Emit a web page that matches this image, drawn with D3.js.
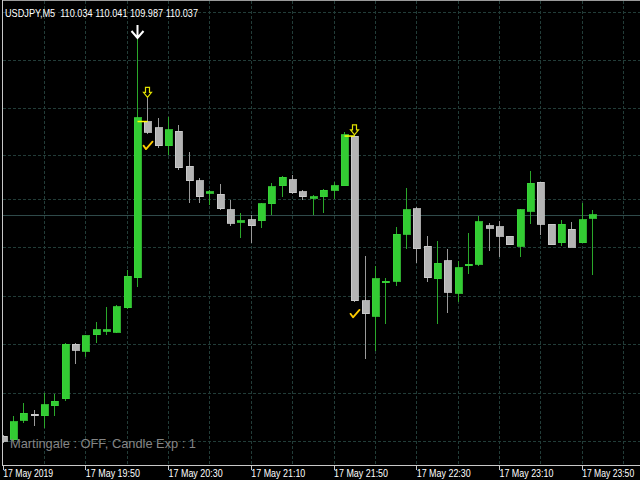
<!DOCTYPE html>
<html><head><meta charset="utf-8">
<script src="https://cdn.jsdelivr.net/npm/d3@7"></script>
<style>html,body{margin:0;padding:0;background:#000;overflow:hidden}</style>
</head><body><svg id="c" width="640" height="480"></svg>
<script>
const times = ["19:10","19:15","19:20","19:25","19:30","19:35","19:40","19:45","19:50","19:55",
"20:00","20:05","20:10","20:15","20:20","20:25","20:30","20:35","20:40","20:45","20:50","20:55",
"21:00","21:05","21:10","21:15","21:20","21:25","21:30","21:35","21:40","21:45","21:50","21:55",
"22:00","22:05","22:10","22:15","22:20","22:25","22:30","22:35","22:40","22:45","22:50","22:55",
"23:00","23:05","23:10","23:15","23:20","23:25","23:30","23:35","23:40","23:45","23:50","23:55"];
const open = [109.854,109.851,109.867,109.872,109.871,109.879,109.885,109.930,109.924,109.938,
109.941,109.940,109.960,109.985,110.114,110.109,110.094,110.106,110.077,110.065,
110.055,110.054,110.041,110.031,110.033,110.032,110.046,110.061,110.066,110.056,
110.051,110.052,110.057,110.061,110.102,109.966,109.953,109.981,109.982,110.021,
110.042,110.011,109.984,109.999,109.972,109.995,109.996,110.028,110.027,110.019,
110.011,110.040,110.064,110.029,110.014,110.025,110.014,110.034];
const high = [109.855,109.871,109.881,109.876,109.890,109.889,109.931,109.931,109.938,109.948,
109.961,109.962,109.991,110.183,110.134,110.117,110.118,110.111,110.089,110.067,
110.057,110.062,110.049,110.038,110.037,110.047,110.063,110.069,110.070,110.057,
110.053,110.058,110.064,110.105,110.103,110.003,109.995,109.985,110.027,110.059,
110.043,110.019,110.015,110.009,109.999,110.022,110.036,110.030,110.032,110.019,
110.042,110.073,110.064,110.029,110.033,110.031,110.047,110.041];
const low = [109.848,109.850,109.865,109.862,109.861,109.871,109.883,109.914,109.919,109.931,
109.938,109.939,109.959,109.977,110.104,110.092,110.086,110.074,110.047,110.047,
110.045,110.041,110.028,110.018,110.014,110.026,110.037,110.052,110.054,110.049,
110.037,110.038,110.050,110.061,109.965,109.918,109.924,109.947,109.978,110.009,
109.997,109.981,109.947,109.956,109.965,109.988,109.995,110.007,110.002,110.012,
110.002,110.029,110.020,110.012,110.011,110.010,110.014,109.987];
const close = [109.850,109.866,109.873,109.871,109.880,109.883,109.930,109.925,109.937,109.942,
109.942,109.961,109.986,110.117,110.105,110.094,110.107,110.076,110.065,110.052,
110.056,110.042,110.030,110.032,110.028,110.046,110.060,110.068,110.055,110.052,
110.052,110.057,110.061,110.103,109.966,109.955,109.984,109.982,110.021,110.041,
110.009,109.985,109.997,109.973,109.993,109.996,110.031,110.026,110.019,110.012,
110.041,110.063,110.029,110.012,110.029,110.010,110.033,110.037];

const tickIndex = [0,8,16,24,32,40,48,56];
const tickLabels = ["17 May 2019","17 May 19:50","17 May 20:30","17 May 21:10","17 May 21:50","17 May 22:30","17 May 23:10","17 May 23:50"];
const gridPrices = [109.85,109.89,109.93,109.97,110.01,110.05,110.086,110.125,110.165,110.2045];
const bidPrice = 110.037;
const signalBars = [13];
const entryBars = [14, 34];
const headerText = "USDJPY,M5  110.034 110.041 109.987 110.037";
const infoText = "Martingale : OFF, Candle Exp : 1";

const W = 640, H = 480, plotBottom = 465, plotLeft = 2.5;
const svg = d3.select("#c");
svg.append("rect").attr("width",W).attr("height",H).attr("fill","#000");

const x = d3.scaleLinear().domain([0,57]).range([2.66,592]);
const y = d3.scaleLinear().domain([109.85,110.2045]).range([441,12]);
const px = i => Math.round(x(i)) + 0.5;

svg.append("defs").append("clipPath").attr("id","plot")
  .append("rect").attr("x",3).attr("y",1).attr("width",W-3).attr("height",plotBottom-1);

const grid = svg.append("g").attr("stroke","#223c38").attr("stroke-dasharray","3,2").attr("shape-rendering","crispEdges");
grid.selectAll(".h").data(gridPrices).join("line")
  .attr("x1",3).attr("x2",W).attr("y1",d=>Math.round(y(d))+0.5).attr("y2",d=>Math.round(y(d))+0.5);
grid.selectAll(".v").data(d3.range(4,61,4)).join("line")
  .attr("y1",1).attr("y2",plotBottom).attr("x1",d=>px(d)).attr("x2",d=>px(d));

// bid line
svg.append("line").attr("x1",3).attr("x2",W)
  .attr("y1",Math.round(y(bidPrice))+0.5).attr("y2",Math.round(y(bidPrice))+0.5)
  .attr("stroke","#2f4a4a").attr("shape-rendering","crispEdges");

const bars = times.map((t,i)=>({i,t,o:open[i],h:high[i],l:low[i],c:close[i]}));
const cg = svg.append("g").attr("clip-path","url(#plot)").attr("shape-rendering","crispEdges");
cg.selectAll(".wick").data(bars).join("line")
  .attr("x1",d=>px(d.i)).attr("x2",d=>px(d.i))
  .attr("y1",d=>y(d.h)).attr("y2",d=>y(d.l))
  .attr("stroke",d=>d.c>=d.o?"#2aa82a":"#9a9a9a");
cg.selectAll(".body").data(bars).join("rect")
  .attr("x",d=>Math.round(x(d.i))-3).attr("width",7)
  .attr("y",d=>Math.min(y(d.o),y(d.c)))
  .attr("height",d=>Math.max(1.5,Math.abs(y(d.o)-y(d.c))))
  .attr("fill",d=>d.c>=d.o?"#33cc33":"#b4b4b4")
  .attr("stroke",d=>d.c>=d.o?"#3ad43a":"#d0d0d0").attr("stroke-width",0.8);

// entry lines
const sg = svg.append("g");
sg.selectAll(".entry").data(entryBars).join("line")
  .attr("x1",d=>px(d-1)).attr("x2",d=>px(d))
  .attr("y1",d=>y(open[d])).attr("y2",d=>y(open[d]))
  .attr("stroke","#ffff00").attr("stroke-width",1.5);

// white signal arrow
sg.selectAll(".warr").data(signalBars).join("path")
  .attr("d",d=>{const cx=px(d), b=y(high[d]); return `M${cx},${b-13}V${b}M${cx-6},${b-7}L${cx},${b}L${cx+6},${b-7}`;})
  .attr("fill","none").attr("stroke","#ffffff").attr("stroke-width",2);

// yellow hollow arrows
sg.selectAll(".yarr").data(entryBars).join("path")
  .attr("d",d=>{const cx=px(d), b=y(high[d]);
    return `M${cx-2},${b-10}H${cx+2}V${b-5}H${cx+4}L${cx},${b}L${cx-4},${b-5}H${cx-2}Z`;})
  .attr("fill","none").attr("stroke","#e0e000").attr("stroke-width",1.2);

// check marks
sg.selectAll(".chk").data(entryBars).join("path")
  .attr("d",d=>{const cx=px(d), t=y(low[d])+8;
    return `M${cx-4},${t+4}L${cx-1.5},${t+7.5}L${cx+5},${t}`;})
  .attr("fill","none").attr("stroke","#ffcc00").attr("stroke-width",1.8)
  .attr("stroke-linecap","round").attr("stroke-linejoin","round");

// frame
svg.append("line").attr("x1",plotLeft).attr("x2",plotLeft).attr("y1",0).attr("y2",plotBottom+0.5)
  .attr("stroke","#c8c8c8").attr("shape-rendering","crispEdges");
svg.append("line").attr("x1",plotLeft).attr("x2",W).attr("y1",0.5).attr("y2",0.5)
  .attr("stroke","#9a9a9a").attr("shape-rendering","crispEdges");

// x axis
const lastTick = tickIndex.length - 1;
const axis = d3.axisBottom(x).tickValues(tickIndex).tickFormat((d,i)=>tickLabels[i]).tickSize(4).tickSizeOuter(0);
const ag = svg.append("g").attr("transform",`translate(0,${plotBottom+0.5})`).call(axis);
ag.select(".domain").remove();
ag.append("line").attr("x1",plotLeft).attr("x2",W).attr("y1",0).attr("y2",0).attr("stroke","#c8c8c8");
ag.selectAll(".tick line").attr("stroke","#c8c8c8");
ag.selectAll(".tick text")
  .attr("fill","#ffffff").attr("y",11.5).attr("dy",0)
  .attr("text-anchor",(d,i)=>i===lastTick?"end":"start")
  .attr("x",(d,i)=>i===lastTick?52:0)
  .attr("font-family","Liberation Sans, Arial, sans-serif")
  .attr("font-size",(d,i)=>i===lastTick?10.5:11)
  .attr("textLength",(d,i)=>i===0?50:(i===lastTick?52:54)).attr("lengthAdjust","spacingAndGlyphs");
ag.attr("shape-rendering","crispEdges");

// header
svg.append("text").attr("x",5).attr("y",17).text(headerText)
  .attr("fill","#ffffff").attr("font-family","Liberation Sans, Arial, sans-serif").attr("font-size",11)
  .style("white-space","pre").attr("textLength",193).attr("lengthAdjust","spacingAndGlyphs");

// info
svg.append("text").attr("x",10).attr("y",448).text(infoText)
  .attr("fill","#858585").attr("font-family","Liberation Sans, Arial, sans-serif").attr("font-size",13)
  .attr("textLength",186).attr("lengthAdjust","spacingAndGlyphs");
</script></body></html>
